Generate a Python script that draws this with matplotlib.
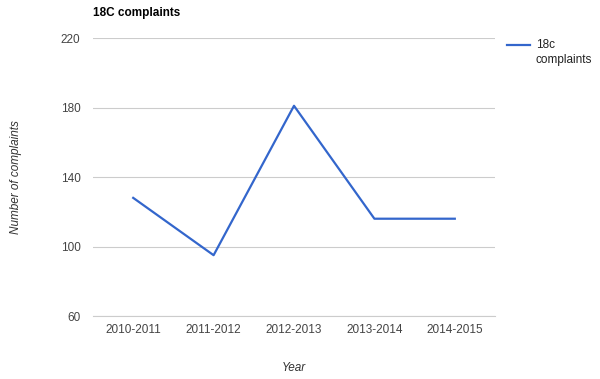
import matplotlib
matplotlib.use('Agg')
import matplotlib.pyplot as plt
from matplotlib.lines import Line2D

plt.rcParams['font.family'] = ['Liberation Sans', 'DejaVu Sans']

years = ['2010-2011', '2011-2012', '2012-2013', '2013-2014', '2014-2015']
complaints = [128, 95, 181, 116, 116]
yticks = [60, 100, 140, 180, 220]

fig = plt.figure(figsize=(6, 3.79), dpi=100)
ax = fig.add_axes([0.155, 0.1662, 0.67, 0.7335])

x = range(len(years))
line, = ax.plot(x, complaints, color='#3366cc', lw=1.6)

ax.set_xlim(-0.5, len(years) - 0.5)
ax.set_ylim(60, 220)
ax.set_yticks(yticks)
ax.set_xticks(list(x))
ax.set_xticklabels(years)
ax.grid(axis='y', color='#cccccc', lw=0.8)
ax.set_axisbelow(True)
for s in ax.spines.values():
    s.set_visible(False)
ax.spines['bottom'].set_visible(True)
ax.spines['bottom'].set_color('#cccccc')
ax.tick_params(length=0, labelsize=8.5, labelcolor='#444444')
ax.tick_params(axis='y', pad=9)
ax.tick_params(axis='x', pad=6)

ax.set_xlabel('Year', fontsize=8.5, style='italic', color='#333333')
ax.xaxis.set_label_coords(0.5, -(368 - 316) / 278, transform=ax.transAxes)
ax.xaxis.label.set_va('center')
ax.set_ylabel('Number of complaints', fontsize=8.5, style='italic', color='#333333')
ax.yaxis.set_label_coords(-(93 - 16) / 402, 0.5, transform=ax.transAxes)
ax.yaxis.label.set_va('center')

fig.text(93 / 600, 1 - 13 / 379, '18C complaints', fontsize=8.5, fontweight='bold',
         color='#000000', va='center', ha='left')

# legend drawn by hand so the swatch sits beside the first line of the label
fig.add_artist(Line2D([507 / 600, 530 / 600], [1 - 45 / 379, 1 - 45 / 379],
                      color=line.get_color(), lw=1.6, transform=fig.transFigure))
fig.text(536 / 600, 1 - 45 / 379, '18c', fontsize=8.5, color='#222222',
         va='center', ha='left')
fig.text(536 / 600, 1 - 60 / 379, 'complaints', fontsize=8.5, color='#222222',
         va='center', ha='left')

fig.savefig('out.png', dpi=100)
